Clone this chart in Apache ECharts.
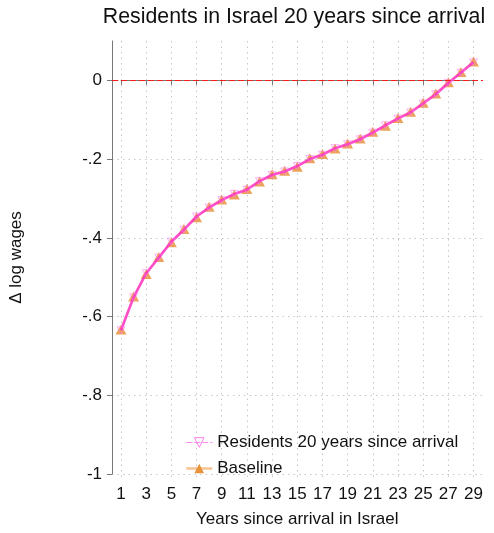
<!DOCTYPE html>
<html>
<head>
<meta charset="utf-8">
<script src="https://cdn.jsdelivr.net/npm/echarts@6/dist/echarts.min.js"></script>
<style>
  html, body { margin: 0; padding: 0; background: #fff; }
  #chart { width: 494px; height: 533px; }
</style>
</head>
<body>
<div id="chart"></div>
<script>
// Years since arrival (x) and wage gaps for the two samples
const years = [1,2,3,4,5,6,7,8,9,10,11,12,13,14,15,16,17,18,19,20,21,22,23,24,25,26,27,28,29];
const baseline = [-0.643,-0.558,-0.500,-0.456,-0.418,-0.384,-0.354,-0.327,-0.308,-0.295,-0.281,-0.262,-0.243,-0.234,-0.224,-0.202,-0.191,-0.177,-0.164,-0.151,-0.134,-0.118,-0.098,-0.082,-0.059,-0.035,-0.006,0.020,0.047];
const residents = [-0.645,-0.560,-0.498,-0.458,-0.417,-0.386,-0.352,-0.329,-0.310,-0.294,-0.283,-0.261,-0.245,-0.236,-0.222,-0.204,-0.193,-0.176,-0.166,-0.153,-0.136,-0.117,-0.100,-0.084,-0.061,-0.037,-0.008,0.018,0.045];
const yTicks = [-1,-0.8,-0.6,-0.4,-0.2,0];

const FONT = '"Liberation Sans", Arial, Helvetica, sans-serif';
const chart = echarts.init(document.getElementById('chart'), null, { renderer: 'canvas' });

// Stata-style labels: 0, -.2, -.4 ... -1
function fmtY(v) {
  const r = Math.round(v * 10) / 10;
  if (r === 0) return '0';
  if (r === -1) return '-1';
  return (r < 0 ? '-' : '') + Math.abs(r).toFixed(1).replace(/^0/, '');
}

const residentsPoints = years.map((x, i) => [x, residents[i]]);
const baselinePoints = years.map((x, i) => [x, baseline[i]]);

// Both grids share the same vertical scale (0.1 at the top edge);
// the data grid reaches 11px lower so its x axis sits below the y axis end.
const Y_TOP = 0.1;
const Y_MIN_DATA = -1.028;

chart.setOption({
  animation: false,
  backgroundColor: '#ffffff',
  textStyle: { fontFamily: FONT },
  title: {
    text: 'Residents in Israel 20 years since arrival',
    left: 289,
    textAlign: 'center',
    top: 2,
    textStyle: { fontFamily: FONT, fontSize: 21.3, fontWeight: 'normal', color: '#111' }
  },
  grid: [
    // plot region: y axis, horizontal grid lines, zero line
    { left: 110, right: 11, top: 41, bottom: 59 },
    // data region spanning years 1..29, x axis at its bottom
    { left: 121, right: 20.5, top: 41, bottom: 48 }
  ],
  xAxis: [
    { gridIndex: 0, type: 'value', min: 0.14, max: 29.75, show: false },
    {
      gridIndex: 1, type: 'value', min: 1, max: 29, interval: 2,
      name: 'Years since arrival in Israel', nameLocation: 'middle', nameGap: 32,
      nameTextStyle: { fontFamily: FONT, fontSize: 17, color: '#111' },
      axisLine: { show: true, lineStyle: { color: '#777', width: 1 } },
      axisTick: { show: true, length: 5, lineStyle: { color: '#777' } },
      axisLabel: { fontFamily: FONT, fontSize: 17, color: '#111', margin: 7 },
      splitLine: { show: true, lineStyle: { color: '#c8c8c8', type: [1.5, 4], width: 1 } }
    }
  ],
  yAxis: [
    {
      gridIndex: 0, type: 'value', min: -1, max: Y_TOP,
      name: 'Δ log wages', nameLocation: 'middle', nameRotate: 90, nameGap: 87,
      nameTextStyle: { fontFamily: FONT, fontSize: 17, color: '#111' },
      axisLine: { show: true, lineStyle: { color: '#777', width: 1 } },
      axisTick: { show: true, length: 5, customValues: yTicks, lineStyle: { color: '#777' } },
      axisLabel: { fontFamily: FONT, fontSize: 17, color: '#111', margin: 10, customValues: yTicks, formatter: fmtY },
      splitLine: { show: true, lineStyle: { color: '#c8c8c8', type: [1.5, 4], width: 1 } }
    },
    { gridIndex: 1, type: 'value', min: Y_MIN_DATA, max: Y_TOP, show: false }
  ],
  legend: {
    orient: 'vertical',
    left: 180,
    top: 429,
    itemWidth: 26,
    itemHeight: 12,
    itemGap: 9,
    textStyle: { fontFamily: FONT, fontSize: 17, color: '#111' },
    data: [
      {
        name: 'Residents 20 years since arrival',
        lineStyle: { color: '#ff8cf2', width: 1, type: [6, 2] },
        itemStyle: { color: 'rgba(255,255,255,0)', borderColor: '#ff80f0', borderWidth: 1 }
      },
      {
        name: 'Baseline',
        lineStyle: { color: '#f6c391', width: 2.5 },
        itemStyle: { color: '#e8923a', borderWidth: 0 }
      }
    ]
  },
  series: [
    {
      name: 'zero',
      type: 'line',
      xAxisIndex: 0, yAxisIndex: 0,
      data: [],
      silent: true,
      markLine: {
        silent: true,
        symbol: 'none',
        label: { show: false },
        lineStyle: { color: '#ff1a1a', type: [6, 3], width: 1.2 },
        data: [{ yAxis: 0 }]
      }
    },
    {
      name: 'Baseline',
      type: 'line',
      xAxisIndex: 1, yAxisIndex: 1,
      data: baselinePoints,
      symbol: 'triangle',
      symbolSize: [11, 10],
      showAllSymbol: true,
      lineStyle: { color: 'rgba(240,170,100,0.5)', width: 2 },
      itemStyle: { color: 'rgba(230,140,50,0.8)', borderWidth: 0 },
      z: 3
    },
    {
      name: 'Residents 20 years since arrival',
      type: 'line',
      xAxisIndex: 1, yAxisIndex: 1,
      data: residentsPoints,
      symbol: 'triangle',
      symbolRotate: 180,
      symbolSize: [8, 7],
      showAllSymbol: true,
      lineStyle: { color: 'rgba(255,50,205,0.85)', width: 2.6 },
      itemStyle: { color: 'rgba(255,255,255,0)', borderColor: 'rgba(255,120,240,0.7)', borderWidth: 0.8 },
      z: 4
    }
  ]
});
</script>
</body>
</html>
